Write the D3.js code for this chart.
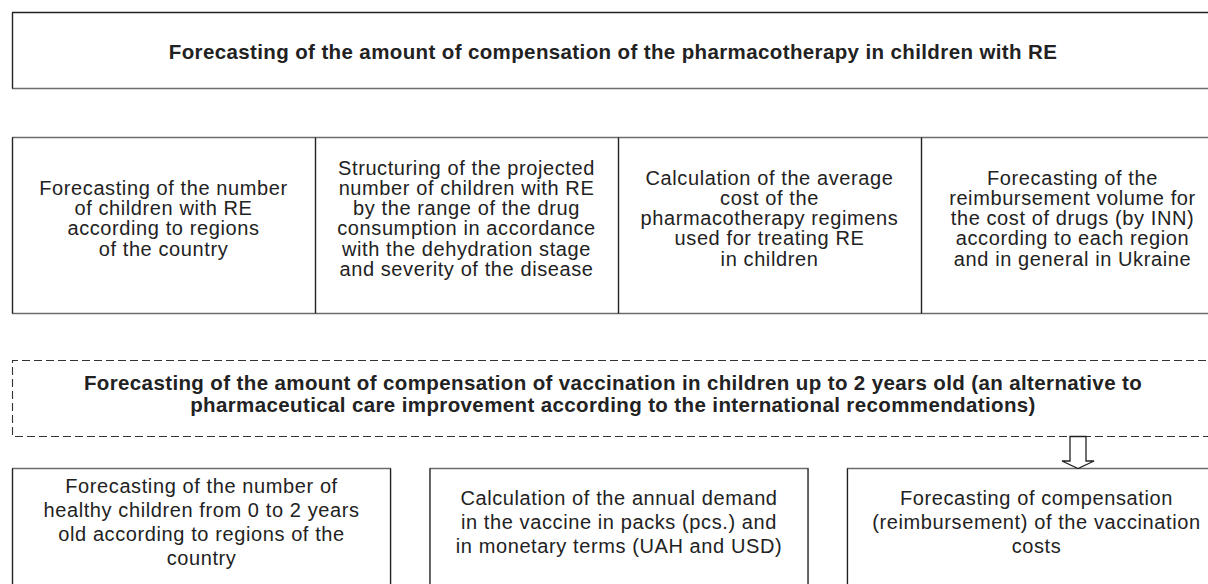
<!DOCTYPE html>
<html>
<head>
<meta charset="utf-8">
<script src="https://cdn.jsdelivr.net/npm/d3@7"></script>
<style>
    body { margin: 0; background: #fff; }
    svg { display: block; font-family: "Liberation Sans", Arial, sans-serif; }
    .edge--h { stroke: #6b6b6b; stroke-width: 1.3; }
    .edge--v { stroke: #222; stroke-width: 1.4; }
    .edge--dash { stroke: #333; stroke-width: 1.1; stroke-dasharray: 8 4; fill: none; }
    .label { fill: #222; text-anchor: middle; letter-spacing: 0.6px; }
    .label--bold { font-weight: bold; letter-spacing: 0.38px; }
</style>
</head>
<body>
<svg id="schemeSvg" width="1208" height="584"></svg>
<script>
'use strict';

const mainTitle = ['Forecasting of the amount of compensation of the pharmacotherapy in children with RE'];

const reSteps = [
    ['Forecasting of the number', 'of children with RE', 'according to regions', 'of the country'],
    ['Structuring of the projected', 'number of children with RE', 'by the range of the drug',
        'consumption in accordance', 'with the dehydration stage', 'and severity of the disease'],
    ['Calculation of the average', 'cost of the', 'pharmacotherapy regimens', 'used for treating RE', 'in children'],
    ['Forecasting of the', 'reimbursement volume for', 'the cost of drugs (by INN)',
        'according to each region', 'and in general in Ukraine']
];

const vaccineTitle = [
    'Forecasting of the amount of compensation of vaccination in children up to 2 years old (an alternative to',
    'pharmaceutical care improvement according to the international recommendations)'
];

const vaccineSteps = [
    ['Forecasting of the number of', 'healthy children from 0 to 2 years', 'old according to regions of the', 'country'],
    ['Calculation of the annual demand', 'in the vaccine in packs (pcs.) and', 'in monetary terms (UAH and USD)'],
    ['Forecasting of compensation', '(reimbursement) of the vaccination', 'costs']
];

const svg = d3.select('#schemeSvg');

const left = 12;
const right = 1224;
const titleX = 613;

// one column band per step
const xRe = d3.scaleBand().domain(d3.range(reSteps.length)).range([left, right]).padding(0);
const xVac = d3.scaleBand().domain(d3.range(vaccineSteps.length)).range([left, 1226])
    .paddingInner(0.092).paddingOuter(0);

// draws a text block centred on (cx, cy)
const drawLines = (lines, cx, cy, step, size, bold) => {
    let y = d3.scaleLinear().domain([0, lines.length - 1 || 1])
        .range([cy - step * (lines.length - 1) / 2, cy + step * (lines.length - 1) / 2]);

    svg.append('g').selectAll('text')
        .data(lines)
        .enter().append('text')
        .attr('class', bold ? 'label label--bold' : 'label')
        .attr('x', cx)
        .attr('y', (d, i) => lines.length === 1 ? cy : y(i))
        .attr('dy', '0.36em')
        .style('font-size', size + 'px')
        .text(d => d);
};

const hLine = (x1, x2, y, cls) => svg.append('line')
    .attr('class', cls).attr('x1', x1).attr('x2', x2).attr('y1', y).attr('y2', y);
const vLine = (x, y1, y2, cls) => svg.append('line')
    .attr('class', cls).attr('x1', x).attr('x2', x).attr('y1', y1).attr('y2', y2);

// top box
hLine(left, 1230, 12.5, 'edge--v');
hLine(left, 1230, 88.5, 'edge--h');
vLine(left + 0.5, 12.5, 88.5, 'edge--v');
drawLines(mainTitle, titleX, 52, 0, 20.5, true);

// RE steps row
hLine(left, 1230, 137.5, 'edge--h');
hLine(left, 1230, 313.5, 'edge--h');
vLine(left + 0.5, 137.5, 313.5, 'edge--v');
reSteps.forEach((lines, i) => {
    if (i > 0) vLine(xRe(i) + 0.5, 137.5, 313.5, 'edge--v');
    drawLines(lines, xRe(i) + xRe.bandwidth() / 2, 218, 20.2, 20, false);
});

// dashed vaccination box
svg.append('path')
    .attr('class', 'edge--dash')
    .attr('d', d3.line()([[1230, 360.5], [left + 0.5, 360.5], [left + 0.5, 436.5], [1230, 436.5]]));
drawLines(vaccineTitle, titleX, 394, 22, 20.5, true);

// vaccine steps row
vaccineSteps.forEach((lines, i) => {
    let x0 = xVac(i);
    let x1 = x0 + xVac.bandwidth();
    hLine(x0, x1, 468.5, 'edge--h');
    vLine(x0 + 0.5, 468.5, 600, 'edge--v');
    vLine(x1 - 0.5, 468.5, 600, 'edge--v');
    drawLines(lines, (x0 + x1) / 2, 522, 24, 20, false);
});

// hollow arrow from the dashed box to the last step
const ax = 1078;
svg.append('path')
    .attr('d', d3.line()([
        [ax - 8, 436.5], [ax + 8, 436.5], [ax + 8, 461], [ax + 16, 461],
        [ax, 468.5], [ax - 16, 461], [ax - 8, 461]
    ]) + 'Z')
    .attr('fill', '#fff')
    .attr('stroke', '#222')
    .attr('stroke-width', 1.3);
</script>
</body>
</html>
